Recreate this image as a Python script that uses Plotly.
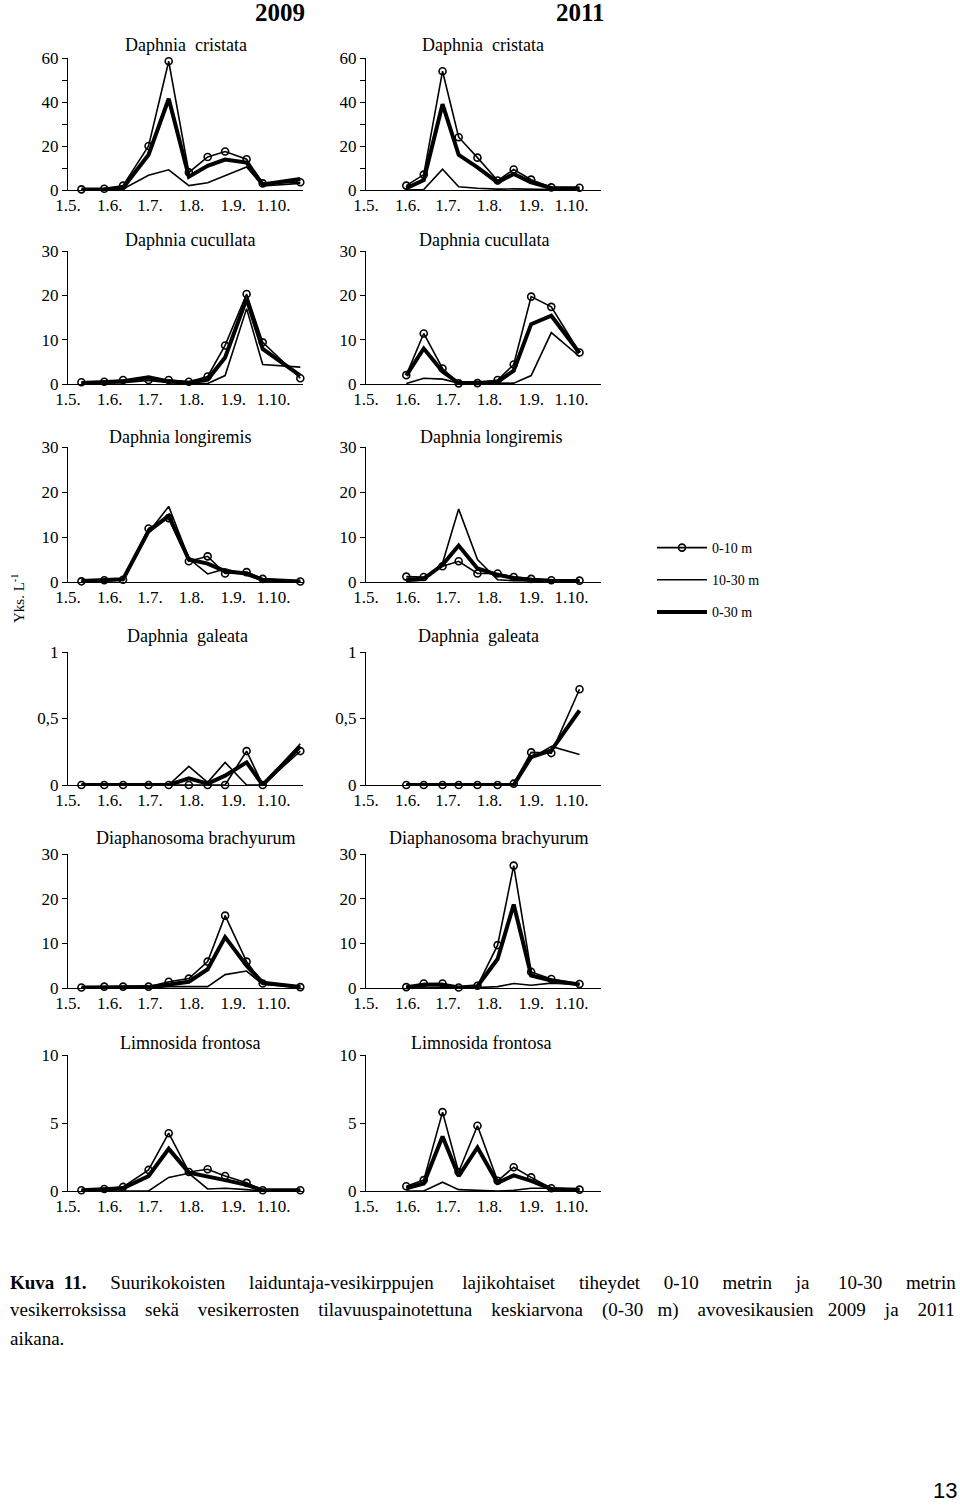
import plotly.graph_objects as go

# ---------------- data ----------------
dates_2009 = ["2009-05-11", "2009-05-28", "2009-06-11", "2009-06-30", "2009-07-15", "2009-07-30",
              "2009-08-13", "2009-08-26", "2009-09-11", "2009-09-23", "2009-10-21"]
dates_2011 = ["2011-05-31", "2011-06-13", "2011-06-27", "2011-07-09", "2011-07-23", "2011-08-07",
              "2011-08-19", "2011-09-01", "2011-09-16", "2011-10-07"]

month_labels = ["1.5.", "1.6.", "1.7.", "1.8.", "1.9.", "1.10."]
series_names = ["0-10 m", "10-30 m", "0-30 m"]

species = ["Daphnia  cristata", "Daphnia cucullata", "Daphnia longiremis",
           "Daphnia  galeata", "Diaphanosoma brachyurum", "Limnosida frontosa"]

# Daphnia cristata
cristata_2009_0_10 = [0.3, 0.6, 2, 20, 58.5, 8, 15, 17.5, 14, 3, 3.5]
cristata_2009_10_30 = [0, 0, 0.5, 6.7, 9.2, 2, 3.3, 6.5, 10.5, 1.8, 3]
cristata_2009_0_30 = [0.2, 0.3, 1, 16, 41.5, 6, 11, 13.8, 12.5, 2.5, 5]
cristata_2011_0_10 = [2, 7, 54, 24, 14.7, 4.3, 9.3, 4.7, 1.2, 1]
cristata_2011_10_30 = [0, 0.2, 9.5, 1.5, 0.8, 0.4, 0.5, 0.3, 0.2, 0.1]
cristata_2011_0_30 = [0.8, 4.5, 39, 16, 10.3, 3.5, 7.3, 3.5, 0.9, 0.8]

# Daphnia cucullata
cucullata_2009_0_10 = [0.4, 0.5, 0.9, 0.9, 0.9, 0.5, 1.7, 8.7, 20.3, 9.4, 1.3]
cucullata_2009_10_30 = [0.1, 0.2, 0.3, 0.8, 0.3, 0.1, 0.1, 1.9, 17, 4.4, 3.8]
cucullata_2009_0_30 = [0.2, 0.4, 0.6, 1.5, 0.6, 0.3, 1, 6, 19.2, 7.9, 1.9]
cucullata_2011_0_10 = [2, 11.4, 3.5, 0.15, 0.2, 0.9, 4.4, 19.7, 17.4, 7.1]
cucullata_2011_10_30 = [0.1, 1.3, 1.1, 0.2, 0.1, 0.1, 0.2, 1.9, 11.6, 6.2]
cucullata_2011_0_30 = [1.9, 8, 2.8, 0.2, 0.2, 0.5, 3, 13.5, 15.4, 7]

# Daphnia longiremis
longiremis_2009_0_10 = [0.15, 0.4, 0.5, 11.9, 14.2, 4.6, 5.7, 1.9, 2.2, 0.7, 0.1]
longiremis_2009_10_30 = [0.1, 0.2, 0.6, 11, 16.8, 5.2, 1.8, 2.9, 1.5, 0.3, 0.1]
longiremis_2009_0_30 = [0.2, 0.3, 0.6, 11.3, 14.7, 5, 4.1, 2.4, 1.9, 0.5, 0.1]
longiremis_2011_0_10 = [1.2, 1.1, 3.5, 4.6, 1.9, 1.9, 1.1, 0.7, 0.4, 0.3]
longiremis_2011_10_30 = [0.2, 0.4, 4.2, 16.2, 5, 0.5, 0.3, 0.2, 0.2, 0.1]
longiremis_2011_0_30 = [0.5, 0.7, 3.8, 8.1, 3, 1.6, 0.9, 0.5, 0.3, 0.2]

# Daphnia galeata
galeata_2009_0_10 = [0, 0, 0, 0, 0, 0, 0, 0, 0.255, 0, 0.255]
galeata_2009_10_30 = [0, 0, 0, 0, 0, 0.14, 0.02, 0.17, 0, 0, 0.31]
galeata_2009_0_30 = [0, 0, 0, 0, 0, 0.05, 0.01, 0.07, 0.17, 0, 0.29]
galeata_2011_0_10 = [0, 0, 0, 0, 0, 0, 0.01, 0.245, 0.24, 0.72]
galeata_2011_10_30 = [0, 0, 0, 0, 0, 0, 0, 0.2, 0.29, 0.23]
galeata_2011_0_30 = [0, 0, 0, 0, 0, 0, 0, 0.21, 0.26, 0.56]

# Diaphanosoma brachyurum
diaphanosoma_2009_0_10 = [0.1, 0.3, 0.3, 0.3, 1.4, 2.1, 5.9, 16.2, 5.9, 1, 0.2]
diaphanosoma_2009_10_30 = [0, 0, 0, 0, 0.3, 0.3, 0.3, 3, 3.8, 0.8, 0.2]
diaphanosoma_2009_0_30 = [0.1, 0.2, 0.2, 0.2, 0.8, 1.4, 4.2, 11.4, 5, 1.2, 0.2]
diaphanosoma_2011_0_10 = [0.2, 1, 1, 0.1, 0.5, 9.6, 27.4, 3.6, 2, 0.9]
diaphanosoma_2011_10_30 = [0, 0, 0, 0, 0.1, 0.3, 1, 0.6, 1.1, 0.8]
diaphanosoma_2011_0_30 = [0.2, 0.7, 0.7, 0.1, 0.4, 6.5, 18.7, 2.8, 1.7, 0.8]

# Limnosida frontosa
limnosida_2009_0_10 = [0.05, 0.15, 0.3, 1.55, 4.25, 1.4, 1.6, 1.1, 0.6, 0.05, 0.05]
limnosida_2009_10_30 = [0, 0, 0, 0, 1, 1.3, 0.15, 0.2, 0.1, 0, 0]
limnosida_2009_0_30 = [0.05, 0.1, 0.2, 1.1, 3.1, 1.35, 1.1, 0.8, 0.45, 0.05, 0.05]
limnosida_2011_0_10 = [0.35, 0.8, 5.8, 1.4, 4.8, 0.75, 1.75, 1.0, 0.2, 0.1]
limnosida_2011_10_30 = [0, 0, 0.65, 0.1, 0.05, 0, 0.05, 0.2, 0.2, 0.1]
limnosida_2011_0_30 = [0.2, 0.55, 4, 1.1, 3.2, 0.6, 1.15, 0.75, 0.15, 0.1]

# y-axis settings per species: (max, tick values, tick texts, minor dtick)
y_ticks = [
    (60, [0, 20, 40, 60], ["0", "20", "40", "60"], 10),
    (30, [0, 10, 20, 30], ["0", "10", "20", "30"], None),
    (30, [0, 10, 20, 30], ["0", "10", "20", "30"], None),
    (1, [0, 0.5, 1], ["0", "0,5", "1"], None),
    (30, [0, 10, 20, 30], ["0", "10", "20", "30"], None),
    (10, [0, 5, 10], ["0", "5", "10"], None),
]

panels_2009 = [
    (cristata_2009_0_10, cristata_2009_10_30, cristata_2009_0_30),
    (cucullata_2009_0_10, cucullata_2009_10_30, cucullata_2009_0_30),
    (longiremis_2009_0_10, longiremis_2009_10_30, longiremis_2009_0_30),
    (galeata_2009_0_10, galeata_2009_10_30, galeata_2009_0_30),
    (diaphanosoma_2009_0_10, diaphanosoma_2009_10_30, diaphanosoma_2009_0_30),
    (limnosida_2009_0_10, limnosida_2009_10_30, limnosida_2009_0_30),
]
panels_2011 = [
    (cristata_2011_0_10, cristata_2011_10_30, cristata_2011_0_30),
    (cucullata_2011_0_10, cucullata_2011_10_30, cucullata_2011_0_30),
    (longiremis_2011_0_10, longiremis_2011_10_30, longiremis_2011_0_30),
    (galeata_2011_0_10, galeata_2011_10_30, galeata_2011_0_30),
    (diaphanosoma_2011_0_10, diaphanosoma_2011_10_30, diaphanosoma_2011_0_30),
    (limnosida_2011_0_10, limnosida_2011_10_30, limnosida_2011_0_30),
]

# ---------------- layout geometry ----------------
W, H = 960, 1505
FONT = "Liberation Serif"


def px(x):
    return x / W


def py(y):
    return 1 - y / H


col_x = [(68, 303), (366, 601)]
row_y = [(58, 190), (251, 384), (447, 582), (652, 785), (854, 988), (1055, 1191)]
title_y = [45, 240, 437, 636, 838, 1043]
title_x = [(186, 483), (190, 484), (180, 491), (187, 478), (195, 488), (190, 481)]

fig = go.Figure()
layout = dict(
    width=W, height=H, autosize=False,
    margin=dict(l=0, r=0, t=0, b=0, pad=0, autoexpand=False),
    paper_bgcolor="white", plot_bgcolor="white",
    font=dict(family=FONT, size=17, color="black"),
    showlegend=True,
    legend=dict(x=px(652), y=py(532), xanchor="left", yanchor="top",
                font=dict(family=FONT, size=14, color="black"),
                tracegroupgap=11, bgcolor="rgba(0,0,0,0)", itemwidth=50),
)

annotations = []
idx = 0
for r in range(6):
    for c, (year, dates, panels) in enumerate([(2009, dates_2009, panels_2009),
                                                 (2011, dates_2011, panels_2011)]):
        idx += 1
        xa = "x" if idx == 1 else f"x{idx}"
        ya = "y" if idx == 1 else f"y{idx}"
        v010, v1030, v030 = panels[r]
        first = (idx == 1)
        fig.add_trace(go.Scatter(x=dates, y=v1030, mode="lines", name=series_names[1],
                                 line=dict(color="black", width=1.6),
                                 xaxis=xa, yaxis=ya, cliponaxis=False,
                                 legendgroup="b", showlegend=first, legendrank=2))
        fig.add_trace(go.Scatter(x=dates, y=v030, mode="lines", name=series_names[2],
                                 line=dict(color="black", width=4),
                                 xaxis=xa, yaxis=ya, cliponaxis=False,
                                 legendgroup="c", showlegend=first, legendrank=3))
        fig.add_trace(go.Scatter(x=dates, y=v010, mode="lines+markers", name=series_names[0],
                                 line=dict(color="black", width=1.6),
                                 marker=dict(symbol="circle-open", size=7, color="black",
                                             line=dict(width=1.6, color="black")),
                                 xaxis=xa, yaxis=ya, cliponaxis=False,
                                 legendgroup="a", showlegend=first, legendrank=1))

        ymax, tv, tt, minor = y_ticks[r]
        x0, x1 = col_x[c]
        ytop, ybot = row_y[r]
        xkey = "xaxis" if idx == 1 else f"xaxis{idx}"
        ykey = "yaxis" if idx == 1 else f"yaxis{idx}"
        layout[xkey] = dict(
            domain=[px(x0), px(x1)], anchor=ya, type="date",
            range=[f"{year}-05-01", f"{year}-10-23"],
            tickvals=[f"{year}-{m:02d}-01" for m in range(5, 11)],
            ticktext=month_labels, ticks="", showgrid=False, zeroline=False,
            showline=True, linecolor="black", linewidth=1, automargin=False,
            tickfont=dict(family=FONT, size=17, color="black"),
        )
        yax = dict(
            domain=[py(ybot), py(ytop)], anchor=xa, range=[0, ymax],
            tickvals=tv, ticktext=tt, ticks="outside", ticklen=5, tickcolor="black",
            showgrid=False, zeroline=False, showline=True, linecolor="black", linewidth=1,
            automargin=False,
            tickfont=dict(family=FONT, size=17, color="black"),
        )
        if minor:
            yax["minor"] = dict(dtick=minor, ticks="outside", ticklen=5, tickcolor="black")
        layout[ykey] = yax

        annotations.append(dict(
            text=species[r], x=px(title_x[r][c]), y=py(title_y[r]),
            xref="paper", yref="paper", xanchor="center", yanchor="middle",
            showarrow=False, font=dict(family=FONT, size=18, color="black")))

# year headers
annotations.append(dict(text="<b>2009</b>", x=px(280), y=py(13), xref="paper", yref="paper",
                        xanchor="center", yanchor="middle", showarrow=False,
                        font=dict(family=FONT, size=25, color="black")))
annotations.append(dict(text="<b>2011</b>", x=px(580), y=py(13), xref="paper", yref="paper",
                        xanchor="center", yanchor="middle", showarrow=False,
                        font=dict(family=FONT, size=25, color="black")))
# y-axis label
annotations.append(dict(text="Yks. L<sup>-1</sup>", x=px(18), y=py(598), xref="paper", yref="paper",
                        xanchor="center", yanchor="middle", showarrow=False, textangle=-90,
                        font=dict(family=FONT, size=15, color="black")))

# caption (justified by widening the word gaps)
NB = "\u00a0"
line1_words = "Suurikokoisten laiduntaja-vesikirppujen lajikohtaiset tiheydet 0-10 metrin ja 10-30 metrin".split(" ")
line2_words = "vesikerroksissa sekä vesikerrosten tilavuuspainotettuna keskiarvona (0-30 m) avovesikausien 2009 ja 2011".split(" ")
gaps1 = [5, 6, 5, 5, 5, 5, 6, 5]
line1 = "<b>Kuva" + NB * 2 + "11.</b>" + NB * 5 + line1_words[0]
for w, g in zip(line1_words[1:], gaps1):
    line1 += NB * g + w
gaps2 = [4, 4, 4, 4, 4, 3, 4, 3, 4, 4]
line2 = line2_words[0]
for w, g in zip(line2_words[1:], gaps2):
    line2 += NB * g + w
cap_lines = [(line1, 1282), (line2, 1310), ("aikana.", 1338)]
for txt, yy in cap_lines:
    annotations.append(dict(text=txt, x=px(8), y=py(yy), xref="paper", yref="paper",
                            xanchor="left", yanchor="middle", showarrow=False,
                            font=dict(family=FONT, size=19, color="black")))
# page number
annotations.append(dict(text="13", x=px(945), y=py(1490), xref="paper", yref="paper",
                        xanchor="center", yanchor="middle", showarrow=False,
                        font=dict(family="Liberation Sans", size=22, color="black")))

layout["annotations"] = annotations
fig.update_layout(**layout)
# the page's default body margin would shift the figure by 8px; remove it
fig.write_html("out.html", config={"displayModeBar": False},
               post_script="document.body.style.margin='0px';")
